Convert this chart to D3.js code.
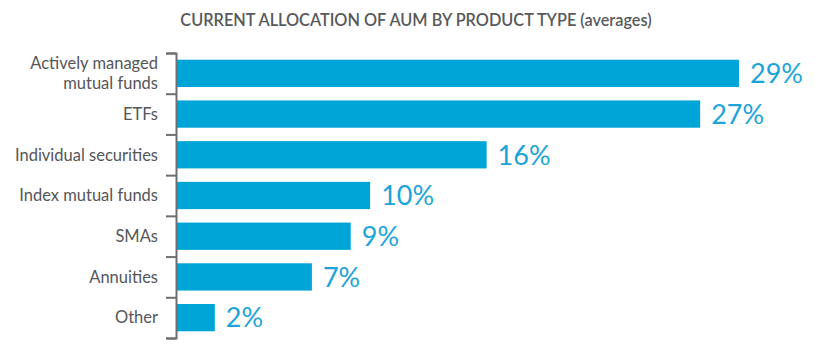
<!DOCTYPE html>
<html>
<head>
<meta charset="utf-8">
<script src="https://cdn.jsdelivr.net/npm/d3@7"></script>
<style>
  html, body { margin: 0; padding: 0; background: #fff; }
  svg { display: block; }
</style>
</head>
<body>
<svg id="chart" width="815" height="358"></svg>
<script>
const title = "CURRENT ALLOCATION OF AUM BY PRODUCT TYPE (averages)";
const categories = [
  ["Actively managed", "mutual funds"],
  ["ETFs"],
  ["Individual securities"],
  ["Index mutual funds"],
  ["SMAs"],
  ["Annuities"],
  ["Other"]
];
const values = [29, 27, 16, 10, 9, 7, 2];
const valueLabels = ["29%", "27%", "16%", "10%", "9%", "7%", "2%"];

(function () {
const svg = d3.select("#chart");
const mLeft = 176, mTop = 53, mBottom = 338, mRight = 739;
const ids = d3.range(categories.length);

const x = d3.scaleLinear().domain([0, 29]).range([mLeft, mRight]);
const y = d3.scaleBand().domain(ids).range([mTop, mBottom]).paddingInner(0.33).paddingOuter(0.165);
const yTicks = d3.scaleLinear().domain([0, categories.length]).range([mTop, mBottom]);

svg.append("text")
  .attr("x", 416).attr("y", 26)
  .attr("text-anchor", "middle")
  .attr("font-family", "Lato, 'Open Sans', sans-serif")
  .attr("font-weight", 600)
  .attr("font-size", 16.3)
  .attr("fill", "#58595b")
  .text(title);

svg.selectAll("rect.bar").data(values).join("rect")
  .attr("class", "bar")
  .attr("x", x(0) + 1)
  .attr("y", (d, i) => y(i))
  .attr("width", d => x(d) - x(0) - 1)
  .attr("height", y.bandwidth())
  .attr("fill", "#00a5d7");

svg.selectAll("text.val").data(values).join("text")
  .attr("class", "val")
  .attr("x", d => x(d) + 11)
  .attr("y", (d, i) => y(i) + y.bandwidth() / 2)
  .attr("dy", "0.36em")
  .attr("font-family", "Lato, 'Open Sans', sans-serif")
  .attr("font-weight", 400)
  .attr("font-size", 27)
  .attr("fill", "#1aa4da")
  .text((d, i) => valueLabels[i]);

const axis = svg.append("g")
  .attr("transform", `translate(${mLeft},0)`)
  .call(d3.axisLeft(yTicks).ticks(categories.length).tickFormat("").tickSize(10).tickSizeOuter(10));
axis.selectAll("path, line").attr("stroke", "#6d6e71").attr("stroke-width", 2);

// one text element per line to keep lines separate
const lines = [];
categories.forEach((c, i) => c.forEach((t, k) => lines.push({ t, i, k, n: c.length })));
const lineGap = 20;
svg.selectAll("text.cat").data(lines).join("text")
  .attr("class", "cat")
  .attr("text-anchor", "end")
  .attr("font-family", "Lato, 'Open Sans', sans-serif")
  .attr("font-size", 16.5)
  .attr("fill", "#555659")
  .attr("x", 158)
  .attr("y", d => y(d.i) + y.bandwidth() / 2 + (d.k - (d.n - 1) / 2) * lineGap)
  .attr("dy", "0.35em")
  .text(d => d.t);
})();
</script>
</body>
</html>
